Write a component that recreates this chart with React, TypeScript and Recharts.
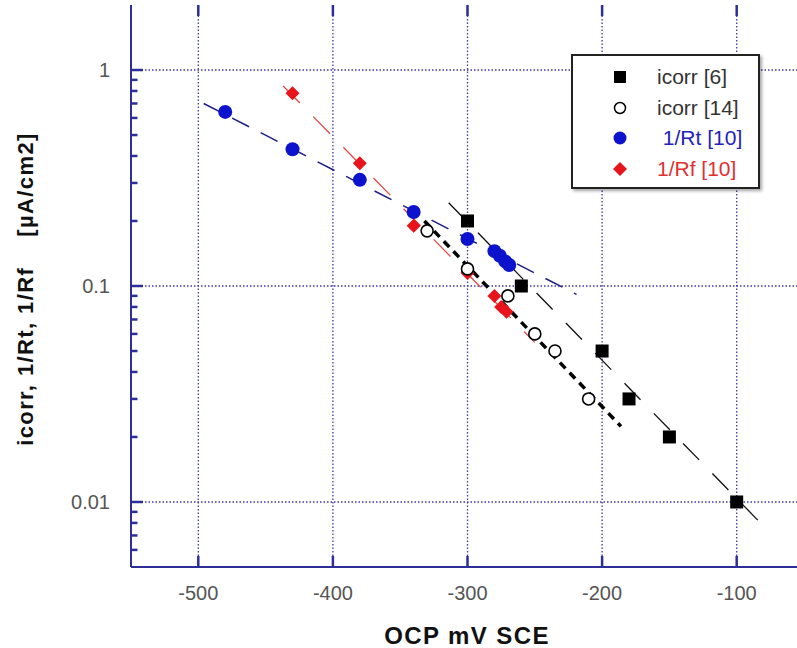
import React from 'react';
import { ScatterChart, Scatter, XAxis, YAxis, CartesianGrid, Legend, ReferenceLine } from 'recharts';

// icorr [6] (filled squares)
const icorr6Ocp = [-300, -260, -200, -180, -150, -100];
const icorr6Val = [0.2, 0.1, 0.05, 0.03, 0.02, 0.01];
const icorr6FitOcp = [-314, -84];
const icorr6FitVal = [0.243, 0.0082];

// icorr [14] (open circles)
const icorr14Ocp = [-330, -300, -270, -250, -235, -210];
const icorr14Val = [0.18, 0.12, 0.09, 0.06, 0.05, 0.03];
const icorr14FitOcp = [-332, -186];
const icorr14FitVal = [0.2, 0.0224];

// 1/Rt [10] (blue circles)
const rtOcp = [-480, -430, -380, -340, -300, -280, -276, -272, -269];
const rtVal = [0.64, 0.43, 0.31, 0.22, 0.165, 0.145, 0.138, 0.13, 0.125];
const rtFitOcp = [-496, -219];
const rtFitVal = [0.7, 0.0914];

// 1/Rf [10] (red diamonds)
const rfOcp = [-430, -380, -340, -300, -280, -275, -271];
const rfVal = [0.78, 0.37, 0.19, 0.115, 0.09, 0.08, 0.076];
const rfFitOcp = [-437, -250];
const rfFitVal = [0.844, 0.0548];

const xTicks = [-500, -400, -300, -200, -100];
const yMajor = [0.01, 0.1, 1];
const yMinor = [0.006, 0.007, 0.008, 0.009, 0.02, 0.03, 0.04, 0.05, 0.06, 0.07, 0.08, 0.09,
  0.2, 0.3, 0.4, 0.5, 0.6, 0.7, 0.8, 0.9];

const legendItems = [
  { label: 'icorr [6]', color: '#333', marker: 'square' },
  { label: 'icorr [14]', color: '#333', marker: 'open' },
  { label: ' 1/Rt [10]', color: '#2222bb', marker: 'blue' },
  { label: '1/Rf [10]', color: '#e03030', marker: 'red' },
];

const pts = (xs: number[], ys: number[]) => xs.map((x, i) => ({ x, y: ys[i] }));

const AXIS = '#2e2e98';
const GRID = '#3a3aa6';
const FONT = '"Liberation Sans", Arial, sans-serif';
const PL = 131; // plot left
const PT = 5; // plot top
const PB = 567; // plot bottom
const X0 = -550;
const X1 = -50;
const Y0 = 0.005;
const Y1 = 2;
// inner tick lengths in axis units (plot is ~673px wide, ~216px per decade)
const mvPerPx = (X1 - X0) / 673;
const decPerPx = 1 / 216;
const xIn = (px: number) => X0 + px * mvPerPx;
const yUp = (v: number, px: number) => v * Math.pow(10, px * decPerPx);

const Square = ({ cx, cy }: any) => <rect x={cx - 6.5} y={cy - 6.5} width={13} height={13} fill="#000" />;
const OpenCircle = ({ cx, cy }: any) => <circle cx={cx} cy={cy} r={6} fill="#fff" stroke="#000" strokeWidth={1.6} />;
const BlueDot = ({ cx, cy }: any) => <circle cx={cx} cy={cy} r={7} fill="#0d12cc" />;
const RedDiamond = ({ cx, cy }: any) => (
  <polygon points={`${cx},${cy - 7} ${cx + 7},${cy} ${cx},${cy + 7} ${cx - 7},${cy}`} fill="#e8141c" />
);
const NoDot = () => <g />;

const LeftTick = ({ y, payload }: any) => (
  <text x={110} y={y + 7} textAnchor="end" fontSize={20} fill="#555" fontFamily={FONT}>
    {payload.value}
  </text>
);

const BottomTick = ({ x, payload }: any) => (
  <text x={x} y={600} textAnchor="middle" fontSize={20} fill="#555" fontFamily={FONT}>
    {payload.value}
  </text>
);

const XLabel = () => (
  <text x={467} y={644} textAnchor="middle" fontSize={24} fontWeight="bold" fill="#111" fontFamily={FONT} letterSpacing={1.4}>
    OCP mV SCE
  </text>
);

const YLabel = () => (
  <text
    transform="translate(33,289) rotate(-90)"
    textAnchor="middle"
    fontSize={22}
    fontWeight="bold"
    fill="#111"
    fontFamily={FONT}
    letterSpacing={1.4}
    style={{ whiteSpace: 'pre' }}
  >
    {'icorr, 1/Rt, 1/Rf    [µA/cm2]'}
  </text>
);

const LegendMarker = ({ kind }: { kind: string }) => (
  <svg width={16} height={16} style={{ position: 'absolute', left: 39, top: -8 }}>
    {kind === 'square' && <rect x={2} y={2} width={12} height={12} fill="#000" />}
    {kind === 'open' && <circle cx={8} cy={8} r={5.5} fill="#fff" stroke="#000" strokeWidth={1.5} />}
    {kind === 'blue' && <circle cx={8} cy={8} r={6.5} fill="#0d12cc" />}
    {kind === 'red' && <polygon points="8,1 15,8 8,15 1,8" fill="#e8141c" />}
  </svg>
);

const renderLegend = () => (
  <div
    style={{
      position: 'relative',
      width: 189,
      height: 135,
      boxSizing: 'border-box',
      border: '2px solid #222',
      background: '#fff',
      boxShadow: '2px 2px 3px rgba(0,0,0,0.35)',
      fontFamily: FONT,
    }}
  >
    {legendItems.map((it, i) => (
      <div key={it.label} style={{ position: 'absolute', left: 0, top: 21 + i * 30.5, height: 0 }}>
        <LegendMarker kind={it.marker} />
        <span
          style={{
            position: 'absolute',
            left: 84,
            top: -13,
            fontSize: 21,
            lineHeight: '26px',
            color: it.color,
            whiteSpace: 'pre',
          }}
        >
          {it.label}
        </span>
      </div>
    ))}
  </div>
);

const tickStroke = { stroke: AXIS, strokeWidth: 2.5, ifOverflow: 'visible' as const };

export default function App() {
  return (
    <div style={{ position: 'absolute', left: 0, top: 0, width: 797, height: 648, overflow: 'hidden', background: '#fff' }}>
      <ScatterChart width={830} height={648} margin={{ top: PT, right: 26, bottom: 0, left: 0 }}>
        <CartesianGrid
          horizontalValues={yMajor}
          verticalValues={xTicks}
          stroke={GRID}
          strokeWidth={1.3}
          strokeDasharray="1.5 2"
        />
        <XAxis
          dataKey="x"
          type="number"
          domain={[X0, X1]}
          allowDataOverflow
          ticks={xTicks}
          interval={0}
          height={648 - PB}
          tickLine={false}
          axisLine={{ stroke: AXIS, strokeWidth: 2 }}
          tick={<BottomTick />}
          label={XLabel}
        />
        <XAxis
          xAxisId="top"
          orientation="top"
          dataKey="x"
          type="number"
          domain={[X0, X1]}
          allowDataOverflow
          ticks={xTicks}
          height={0}
          tickLine={false}
          axisLine={{ stroke: AXIS, strokeWidth: 2 }}
          tick={false}
        />
        <YAxis
          dataKey="y"
          type="number"
          scale="log"
          domain={[Y0, Y1]}
          allowDataOverflow
          ticks={yMajor}
          interval={0}
          width={PL}
          tickLine={false}
          axisLine={{ stroke: AXIS, strokeWidth: 2 }}
          tick={<LeftTick />}
          label={YLabel}
        />

        {/* inner tick marks */}
        {yMajor.map((v) => (
          <ReferenceLine key={`ym${v}`} segment={[{ x: X0, y: v }, { x: xIn(12), y: v }]} {...tickStroke} />
        ))}
        {yMinor.map((v) => (
          <ReferenceLine key={`yn${v}`} segment={[{ x: X0, y: v }, { x: xIn(6.5), y: v }]} {...tickStroke} />
        ))}
        {xTicks.map((v) => (
          <ReferenceLine key={`xb${v}`} segment={[{ x: v, y: Y0 }, { x: v, y: yUp(Y0, 11) }]} {...tickStroke} />
        ))}
        {xTicks.map((v) => (
          <ReferenceLine key={`xt${v}`} segment={[{ x: v, y: Y1 }, { x: v, y: yUp(Y1, -11) }]} {...tickStroke} />
        ))}

        {/* fit lines */}
        <Scatter data={pts(rtFitOcp, rtFitVal)} shape={NoDot} line={{ stroke: '#1c1c88', strokeWidth: 1.5, strokeDasharray: '19 13' }} legendType="none" isAnimationActive={false} />
        <Scatter data={pts(rfFitOcp, rfFitVal)} shape={NoDot} line={{ stroke: '#e04a4a', strokeWidth: 1.3, strokeDasharray: '24 19' }} legendType="none" isAnimationActive={false} />
        <Scatter data={pts(icorr6FitOcp, icorr6FitVal)} shape={NoDot} line={{ stroke: '#111', strokeWidth: 1.3, strokeDasharray: '23 19' }} legendType="none" isAnimationActive={false} />
        <Scatter data={pts(icorr14FitOcp, icorr14FitVal)} shape={NoDot} line={{ stroke: '#000', strokeWidth: 3.5, strokeDasharray: '8 6' }} legendType="none" isAnimationActive={false} />

        {/* data points */}
        <Scatter name="1/Rt [10]" data={pts(rtOcp, rtVal)} shape={BlueDot} isAnimationActive={false} />
        <Scatter name="1/Rf [10]" data={pts(rfOcp, rfVal)} shape={RedDiamond} isAnimationActive={false} />
        <Scatter name="icorr [14]" data={pts(icorr14Ocp, icorr14Val)} shape={OpenCircle} isAnimationActive={false} />
        <Scatter name="icorr [6]" data={pts(icorr6Ocp, icorr6Val)} shape={Square} isAnimationActive={false} />

        <Legend
          layout="horizontal"
          verticalAlign="middle"
          align="center"
          content={renderLegend}
          wrapperStyle={{ position: 'absolute', left: 571, top: 54, width: 189, height: 135 }}
        />
      </ScatterChart>
    </div>
  );
}
